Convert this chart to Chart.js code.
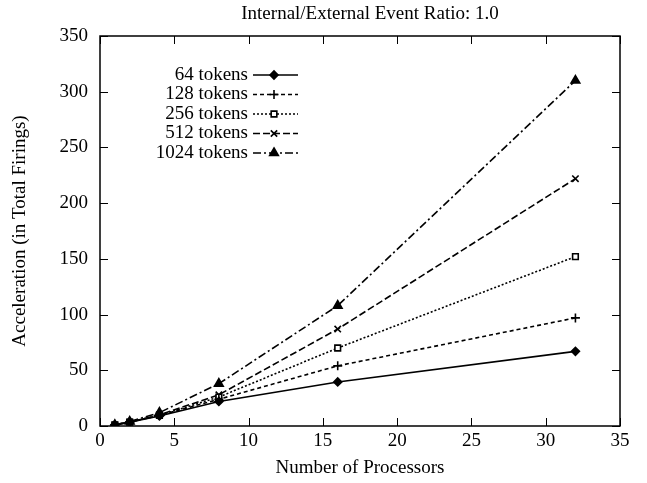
<!DOCTYPE html>
<html lang="en">
<head>
  <meta charset="UTF-8">
  <title>Internal/External Event Ratio: 1.0</title>
  <script src="https://cdn.jsdelivr.net/npm/chart.js"></script>
  <style>
    html, body { margin: 0; padding: 0; background: #fff; }
    #wrap { width: 647px; height: 483px; }
  </style>
</head>
<body>
  <div id="wrap"><canvas id="chart" width="647" height="483"></canvas></div>
  <script>
    // data
    const procs = [1, 2, 4, 8, 16, 32];
    const labels = ['64 tokens', '128 tokens', '256 tokens', '512 tokens', '1024 tokens'];
    const t64 = [1, 3.5, 9, 22, 39.5, 67];
    const t128 = [1, 3.5, 9.5, 24, 54, 97];
    const t256 = [1, 3.5, 9.5, 26, 70, 152];
    const t512 = [1, 3.5, 10, 28, 87, 222];
    const t1024 = [1, 4, 12, 38, 108, 310];
    const xTicks = [0, 5, 10, 15, 20, 25, 30, 35];
    const yTicks = [0, 50, 100, 150, 200, 250, 300, 350];

    const FONT = 'Liberation Serif, Times New Roman, serif';
    const styles = [
      { pointStyle: 'rectRot', dash: [], fill: '#000', r: 4 },
      { pointStyle: 'cross', dash: [4, 3], fill: '#000', r: 4.5 },
      { pointStyle: 'rect', dash: [2, 2], fill: '#fff', r: 4 },
      { pointStyle: 'crossRot', dash: [7, 3], fill: '#000', r: 4.5 },
      { pointStyle: 'triangle', dash: [8, 3, 2, 3], fill: '#000', r: 5 }
    ];
    const series = [t64, t128, t256, t512, t1024];

    const datasets = series.map((vals, i) => ({
      label: labels[i],
      data: procs.map((p, j) => ({ x: p, y: vals[j] })),
      borderColor: '#000',
      borderWidth: 1.6,
      borderDash: styles[i].dash,
      pointStyle: styles[i].pointStyle,
      pointRadius: styles[i].r,
      pointBorderWidth: 1.6,
      pointBorderColor: '#000',
      pointBackgroundColor: styles[i].fill,
      tension: 0
    }));

    // frame, inward ticks, title and the gnuplot style key
    const gnuplotLook = {
      id: 'gnuplotLook',
      afterDraw(chart) {
        const ctx = chart.ctx;
        const a = chart.chartArea;
        const xs = chart.scales.x, ys = chart.scales.y;
        ctx.save();
        ctx.strokeStyle = '#000';
        ctx.lineWidth = 1.5;
        ctx.setLineDash([]);
        ctx.strokeRect(a.left, a.top, a.right - a.left, a.bottom - a.top);
        ctx.lineWidth = 1;
        ctx.beginPath();
        xTicks.forEach(v => {
          const px = Math.round(xs.getPixelForValue(v)) + 0.5;
          ctx.moveTo(px, a.bottom); ctx.lineTo(px, a.bottom - 8);
          ctx.moveTo(px, a.top); ctx.lineTo(px, a.top + 8);
        });
        yTicks.forEach(v => {
          const py = Math.round(ys.getPixelForValue(v)) + 0.5;
          ctx.moveTo(a.left, py); ctx.lineTo(a.left + 8, py);
          ctx.moveTo(a.right, py); ctx.lineTo(a.right - 8, py);
        });
        ctx.stroke();

        // title
        ctx.fillStyle = '#000';
        ctx.font = '19px ' + FONT;
        ctx.textAlign = 'center';
        ctx.textBaseline = 'middle';
        ctx.fillText('Internal/External Event Ratio: 1.0', (a.left + a.right) / 2 + 10, 14);

        // key
        chart.data.datasets.forEach((ds, i) => {
          const y = 75 + i * 19.5;
          ctx.fillStyle = '#000';
          ctx.textAlign = 'right';
          ctx.fillText(ds.label, 248, y);
          ctx.beginPath();
          ctx.setLineDash(ds.borderDash);
          ctx.lineWidth = ds.borderWidth;
          ctx.moveTo(253, y); ctx.lineTo(298, y);
          ctx.stroke();
          ctx.setLineDash([]);
          ctx.fillStyle = ds.pointBackgroundColor;
          ctx.strokeStyle = '#000';
          ctx.lineWidth = ds.pointBorderWidth;
          Chart.helpers.drawPoint(ctx, {
            pointStyle: ds.pointStyle,
            radius: ds.pointRadius,
            borderWidth: ds.pointBorderWidth,
            rotation: 0
          }, 274, y);
        });
        ctx.restore();
      }
    };

    new Chart(document.getElementById('chart'), {
      type: 'line',
      data: { datasets },
      options: {
        responsive: false,
        animation: false,
        layout: { padding: { top: 36, right: 27, left: 0, bottom: 0 } },
        plugins: {
          legend: { display: false },
          title: { display: false },
          tooltip: { enabled: false }
        },
        scales: {
          x: {
            type: 'linear',
            min: 0, max: 35,
            afterFit: s => { s.height = 57; },
            afterBuildTicks: s => { s.ticks = xTicks.map(v => ({ value: v })); },
            grid: { display: false, drawTicks: false },
            border: { display: false },
            ticks: { color: '#000', font: { family: FONT, size: 19 }, padding: 4, maxRotation: 0 },
            title: { display: true, text: 'Number of Processors', color: '#000', font: { family: FONT, size: 19 }, padding: { top: 0, bottom: 4 } }
          },
          y: {
            min: 0, max: 350,
            afterFit: s => { s.width = 100; },
            afterBuildTicks: s => { s.ticks = yTicks.map(v => ({ value: v })); },
            grid: { display: false, drawTicks: false },
            border: { display: false },
            ticks: { color: '#000', font: { family: FONT, size: 19 }, padding: 12 },
            title: { display: true, text: 'Acceleration (in Total Firings)', color: '#000', font: { family: FONT, size: 19 }, padding: { top: 9, bottom: 0 } }
          }
        }
      },
      plugins: [gnuplotLook]
    });
  </script>
</body>
</html>
